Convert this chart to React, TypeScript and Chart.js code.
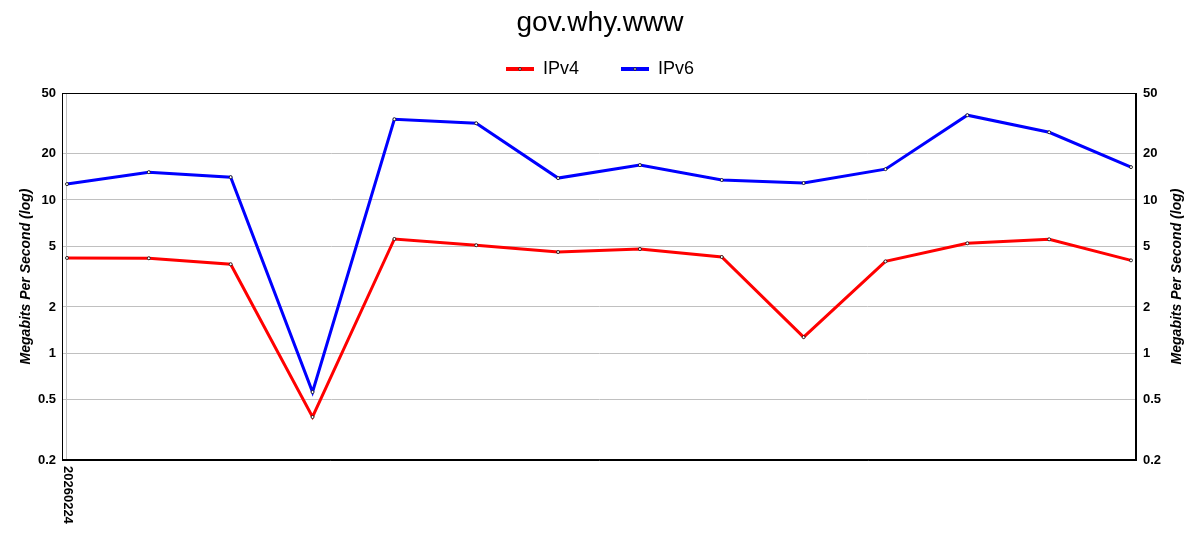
import React, { useEffect, useRef } from "react";
import { Chart, registerables } from "chart.js";

Chart.register(...registerables);

const chartTitle = "gov.why.www";
const axisTitle = "Megabits Per Second (log)";
const xLabels = ["20260224", "", "", "", "", "", "", "", "", "", "", "", "", ""];
const ipv4 = [4.18, 4.16, 3.8, 0.382, 5.56, 5.06, 4.57, 4.78, 4.24, 1.27, 3.97, 5.21, 5.53, 4.03];
const ipv6 = [12.7, 15.2, 14.1, 0.556, 33.7, 31.7, 13.9, 16.9, 13.5, 12.9, 15.9, 35.8, 27.7, 16.4];
const yTicks = [0.2, 0.5, 1, 2, 5, 10, 20, 50];
const labeledIndices = [0];

const FONT = "'Liberation Sans', Arial, sans-serif";
const GRID = "#c0c0c0";

const decorPlugin = {
  id: "decor",
  beforeDatasetsDraw(chart: any) {
    const { ctx, chartArea: a } = chart;
    ctx.save();
    ctx.strokeStyle = "#000";
    ctx.lineWidth = 1;
    ctx.strokeRect(Math.round(a.left) + 0.5, Math.round(a.top) + 0.5, Math.round(a.right - a.left) - 1, Math.round(a.bottom - a.top) - 1);
    ctx.restore();
  },
  afterDraw(chart: any) {
    const { ctx, chartArea: a } = chart;
    ctx.save();
    ctx.fillStyle = "#000";
    ctx.font = `italic bold 14px ${FONT}`;
    ctx.textAlign = "center";
    ctx.textBaseline = "middle";
    const cy = (a.top + a.bottom) / 2;
    // left axis title
    ctx.save();
    ctx.translate(26, cy);
    ctx.rotate(-Math.PI / 2);
    ctx.fillText(axisTitle, 0, 0);
    ctx.restore();
    // right axis title
    ctx.save();
    ctx.translate(chart.width - 23, cy);
    ctx.rotate(-Math.PI / 2);
    ctx.fillText(axisTitle, 0, 0);
    ctx.restore();
    // x labels, rotated clockwise
    const xs = chart.scales.x;
    ctx.font = `bold 13px ${FONT}`;
    ctx.textAlign = "left";
    labeledIndices.forEach((i) => {
      const px = xs.getPixelForValue(i) + 1;
      ctx.save();
      ctx.translate(px, a.bottom + 6);
      ctx.rotate(Math.PI / 2);
      ctx.fillText(xLabels[i], 0, 0);
      ctx.restore();
    });
    // legend marker dots
    const lg = chart.legend;
    if (lg && lg.legendHitBoxes) {
      lg.legendHitBoxes.forEach((hb: any) => {
        ctx.beginPath();
        ctx.arc(hb.left + 14, hb.top + hb.height / 2, 1.3, 0, Math.PI * 2);
        ctx.fillStyle = "#fff";
        ctx.fill();
        ctx.strokeStyle = "#000";
        ctx.lineWidth = 0.8;
        ctx.stroke();
      });
    }
    ctx.restore();
  },
};

export default function App() {
  const ref = useRef<HTMLCanvasElement | null>(null);
  useEffect(() => {
    if (!ref.current) return;
    const pad = 0.061;
    const mk = (arr: number[]) => arr.map((v, i) => ({ x: i, y: v }));
    const logAxis = (position: string, showGrid: boolean, padding: number, width: number) => ({
      type: "logarithmic",
      position,
      min: yTicks[0],
      max: yTicks[yTicks.length - 1],
      afterBuildTicks: (s: any) => {
        s.ticks = yTicks.map((v) => ({ value: v }));
      },
      afterFit: (s: any) => {
        s.width = width;
      },
      grid: { display: showGrid, color: GRID, drawTicks: false, lineWidth: 1 },
      border: { display: true, color: "#000" },
      ticks: {
        color: "#000",
        font: { family: FONT, size: 13, weight: "bold" },
        padding,
        autoSkip: false,
        callback: (v: any) => String(v),
      },
      title: { display: false },
    });
    const chart = new Chart(ref.current, {
      type: "line",
      data: {
        datasets: [
          {
            label: "IPv4",
            data: mk(ipv4),
            borderColor: "#ff0000",
            backgroundColor: "#ff0000",
            borderWidth: 3,
            pointRadius: 1.5,
            pointBackgroundColor: "#fff",
            pointBorderColor: "#000",
            pointBorderWidth: 0.8,
            tension: 0,
            yAxisID: "y",
          },
          {
            label: "IPv6",
            data: mk(ipv6),
            borderColor: "#0000ff",
            backgroundColor: "#0000ff",
            borderWidth: 3,
            pointRadius: 1.5,
            pointBackgroundColor: "#fff",
            pointBorderColor: "#000",
            pointBorderWidth: 0.8,
            tension: 0,
            yAxisID: "y",
          },
        ],
      },
      options: {
        responsive: false,
        animation: false,
        layout: { padding: 0 },
        scales: {
          x: {
            type: "linear",
            position: "bottom",
            min: -pad,
            max: ipv4.length - 1 + pad,
            afterBuildTicks: (s: any) => {
              s.ticks = labeledIndices.map((v) => ({ value: v }));
            },
            afterFit: (s: any) => {
              s.height = 90;
            },
            grid: { display: true, color: GRID, drawTicks: false },
            border: { display: true, color: "#000" },
            ticks: { display: false },
          },
          xTop: {
            type: "linear",
            axis: "x",
            position: "top",
            display: true,
            grid: { display: false },
            border: { display: false },
            ticks: { display: false },
            afterFit: (s: any) => {
              s.height = 5;
            },
          },
          y: logAxis("left", true, 6, 62),
          y2: logAxis("right", false, 7, 64),
        } as any,
        plugins: {
          title: {
            display: true,
            text: chartTitle,
            color: "#000",
            font: { family: FONT, size: 28, weight: "normal" },
            padding: { top: 6, bottom: -21.6 },
          },
          legend: {
            display: true,
            position: "top",
            labels: {
              color: "#000",
              font: { family: FONT, size: 18 },
              boxWidth: 28,
              boxHeight: 4,
              padding: 42,
              generateLabels: (c: any) =>
                Chart.defaults.plugins.legend.labels.generateLabels(c).map((it: any) => ({ ...it, lineWidth: 0 })),
            },
          },
          tooltip: { enabled: false },
        },
      } as any,
      plugins: [decorPlugin],
    });
    return () => chart.destroy();
  }, []);
  return (
    <div style={{ position: "absolute", left: 0, top: 0, width: 1200, height: 550 }}>
      <canvas ref={ref} width={1200} height={550} style={{ display: "block" }} />
    </div>
  );
}
